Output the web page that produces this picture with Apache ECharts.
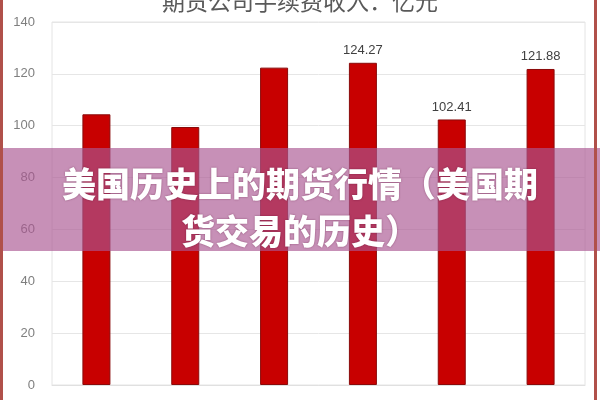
<!DOCTYPE html>
<html><head><meta charset="utf-8">
<script src="https://cdn.jsdelivr.net/npm/echarts@6/dist/echarts.min.js"></script>
<style>html,body{margin:0;padding:0;background:#fff}#c{width:600px;height:400px}</style>
</head><body><div id="c"></div>
<script>
var categories = ['1', '2', '3', '4', '5', '6'];
var values = [104.4, 99.5, 122.4, 124.27, 102.41, 121.88];
var labelled = [false, false, false, true, true, true];
var yTicks = [0, 20, 40, 60, 80, 100, 120, 140];
var chartTitle = '期货公司手续费收入：亿元';
var overlayLines = ['美国历史上的期货行情（美国期', '货交易的历史）'];

var chart = echarts.init(document.getElementById('c'));
var data = values.map(function (v, i) {
  return { value: v, label: { show: labelled[i] } };
});
chart.setOption({
  animation: false,
  grid: { left: 52, right: 15, top: 22, bottom: 15, show: true, borderColor: '#e4e4e4', borderWidth: 1 },
  xAxis: {
    type: 'category', data: categories,
    axisLine: { show: true, lineStyle: { color: '#e0e0e0' } },
    axisTick: { show: false }, axisLabel: { show: false }
  },
  yAxis: {
    type: 'value', min: yTicks[0], max: yTicks[yTicks.length - 1], interval: 20,
    axisLine: { show: false }, axisTick: { show: false },
    axisLabel: { color: '#7f7f7f', fontSize: 13, margin: 17, fontFamily: 'Liberation Sans' },
    splitLine: { lineStyle: { color: '#e6e6e6' } }
  },
  series: [{
    type: 'bar', data: data, barWidth: 28,
    itemStyle: { color: '#c80000', borderColor: '#8a0a0a', borderWidth: 1 },
    label: { position: 'top', distance: 6, color: '#404040', fontSize: 13, fontFamily: 'Liberation Sans' }
  }],
  graphic: [
    { type: 'text', z: 50, left: 'center', top: -10,
      style: { text: chartTitle, fill: '#595959', font: '23px "Noto Sans CJK SC"' } },
    { type: 'rect', z: 100, shape: { x: 0, y: 148, width: 600, height: 103 },
      style: { fill: 'rgba(170,86,145,0.66)' } },
    { type: 'text', z: 101, left: 'center', top: 167,
      style: { text: overlayLines[0], fill: '#fff', font: '900 34px "Noto Sans CJK SC"',
        textShadowColor: 'rgba(80,0,40,0.5)', textShadowBlur: 2 } },
    { type: 'text', z: 101, left: 'center', top: 214,
      style: { text: overlayLines[1], fill: '#fff', font: '900 34px "Noto Sans CJK SC"',
        textShadowColor: 'rgba(80,0,40,0.5)', textShadowBlur: 2 } },
    { type: 'rect', z: 102, shape: { x: 0, y: 0, width: 3, height: 400 }, style: { fill: '#b0504a' } },
    { type: 'rect', z: 102, shape: { x: 594, y: 0, width: 3, height: 400 }, style: { fill: '#b0504a' } }
  ]
});
</script></body></html>
